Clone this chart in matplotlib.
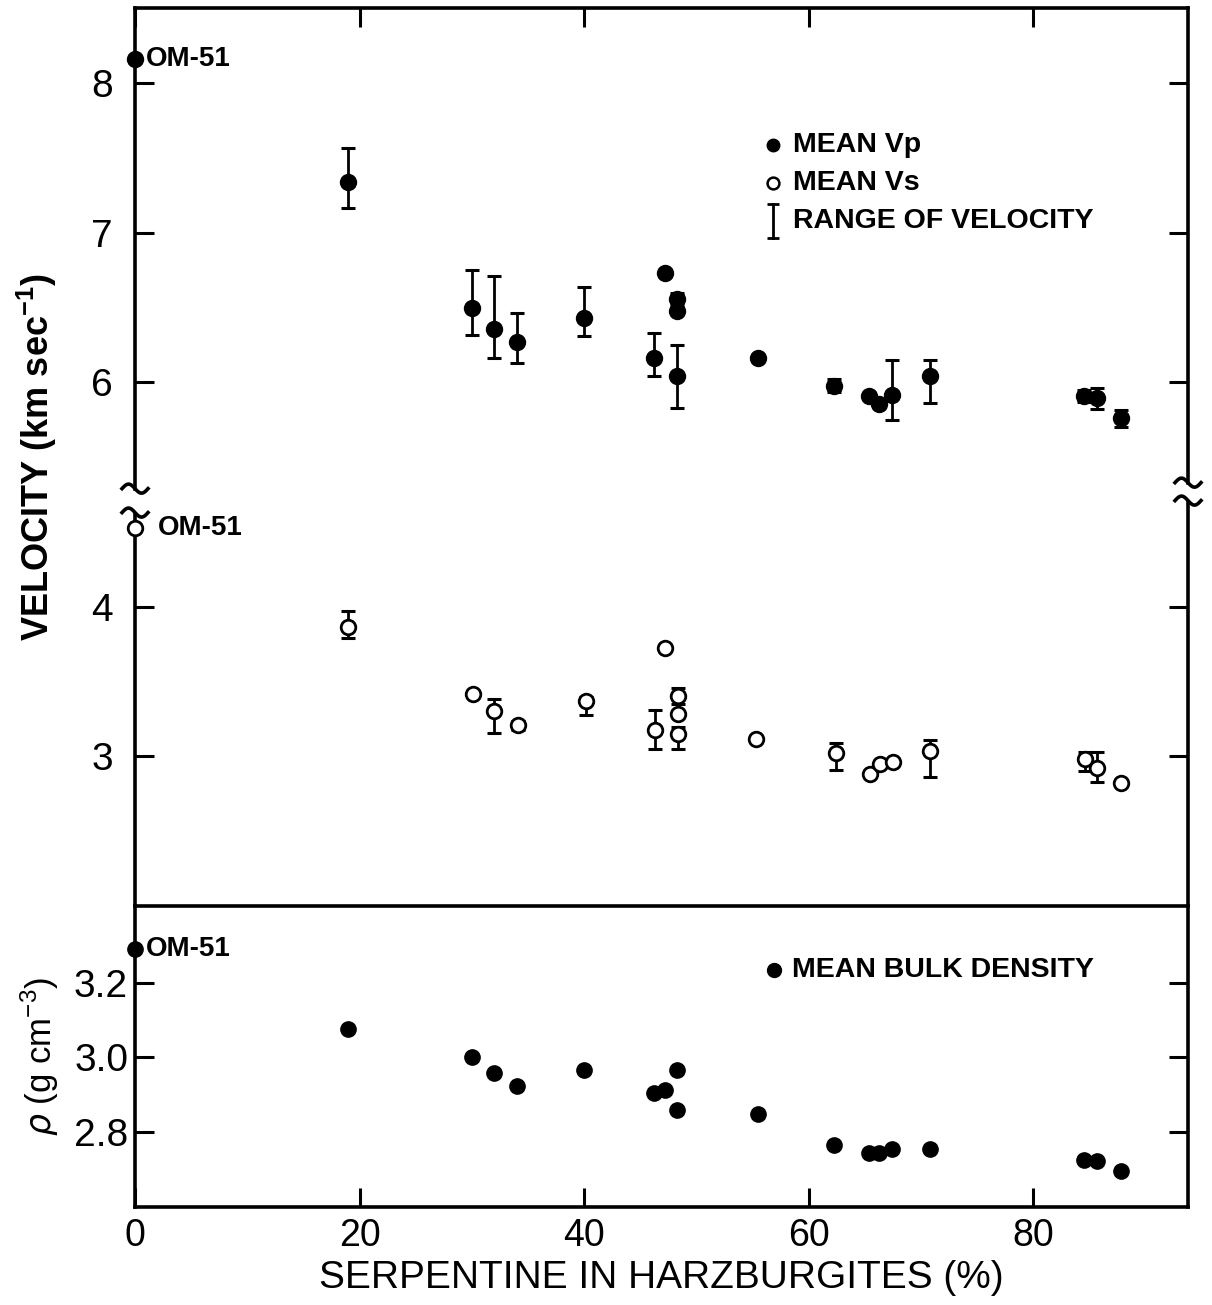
import numpy as np
import matplotlib
matplotlib.use("Agg")
import matplotlib.pyplot as plt

plt.rcParams["font.family"] = ["Liberation Sans", "DejaVu Sans"]
plt.rcParams["mathtext.fontset"] = "dejavusans"

# ── Data ───────────────────────────────────────────────────────────────────
nan = np.nan

# serpentine content (%) for each sample, P-wave velocity (km/s)
vp_serp = [0, 19, 30, 32, 34, 40, 46.2, 47.2, 48.3, 48.3, 48.3, 55.5,
           62.3, 65.4, 66.3, 67.4, 70.8, 84.5, 85.7, 87.8]
vp_mean = [8.16, 7.34, 6.50, 6.355, 6.27, 6.43, 6.16, 6.73, 6.556, 6.477,
           6.045, 6.16, 5.973, 5.91, 5.854, 5.915, 6.045, 5.906, 5.895, 5.76]
vp_min = [nan, 7.163, 6.315, 6.162, 6.128, 6.31, 6.045, nan, 6.52, nan,
          5.831, nan, 5.933, nan, nan, 5.746, 5.865, 5.87, 5.82, 5.703]
vp_max = [nan, 7.567, 6.753, 6.708, 6.461, 6.637, 6.33, nan, 6.596, nan,
          6.252, nan, 6.025, nan, nan, 6.153, 6.153, 5.95, 5.96, 5.816]

# S-wave velocity (km/s)
vs_serp = [0, 19, 30.1, 32, 34.1, 40.2, 46.3, 47.2, 48.4, 48.4, 48.4, 55.3,
           62.4, 65.5, 66.4, 67.5, 70.8, 84.6, 85.7, 87.8]
vs_mean = [4.53, 3.867, 3.418, 3.307, 3.21, 3.37, 3.175, 3.728, 3.407, 3.281,
           3.153, 3.115, 3.022, 2.883, 2.949, 2.965, 3.038, 2.982, 2.922, 2.823]
vs_min = [nan, 3.79, nan, 3.155, 3.18, 3.277, 3.053, nan, 3.352, nan,
          3.053, nan, 2.909, nan, nan, nan, 2.865, 2.905, 2.827, nan]
vs_max = [nan, 3.971, nan, 3.385, 3.235, 3.40, 3.31, nan, 3.458, nan,
          3.20, nan, 3.088, nan, nan, nan, 3.108, 3.027, 3.027, nan]

# mean bulk density (g/cm3)
rho_serp = [0, 19, 30, 32, 34, 40, 46.2, 47.2, 48.3, 48.3, 55.5, 62.3,
            65.4, 66.3, 67.4, 70.8, 84.5, 85.7, 87.8]
rho_mean = [3.292, 3.076, 3.001, 2.957, 2.924, 2.967, 2.904, 2.913, 2.965,
            2.857, 2.846, 2.765, 2.741, 2.741, 2.754, 2.754, 2.722, 2.72, 2.695]

vel_ticks = [3, 4, 6, 7, 8]
rho_ticks = [2.8, 3.0, 3.2]
x_ticks = [0, 20, 40, 60, 80]

# the velocity axis is broken between 4 and 6: Vs values are shifted up
VS_SHIFT = 0.5
BREAK_LEFT = (5.13, 5.29)
BREAK_RIGHT = (5.21, 5.33)

# ── Figure / axes ─────────────────────────────────────────────────────────
W, H = 1212, 1305
fig = plt.figure(figsize=(W / 100, H / 100), dpi=100)
ax_v = fig.add_axes([0.1114, 0.3057, 0.8688, 0.6879])
ax_r = fig.add_axes([0.1114, 0.0749, 0.8688, 0.2309], sharex=ax_v)

LW = 2.6
for ax in (ax_v, ax_r):
    for s in ax.spines.values():
        s.set_linewidth(LW)
    ax.tick_params(direction="in", length=14, width=2.2, labelsize=27, pad=8)

ax_v.set_xlim(0, 93.8)
ax_v.set_ylim(2.5, 8.5)
ax_r.set_ylim(2.596, 3.408)

# ── Velocity panel ────────────────────────────────────────────────────────
vp_x = np.asarray(vp_serp)
vp_y = np.asarray(vp_mean)
vs_x = np.asarray(vs_serp)
vs_y = np.asarray(vs_mean) + VS_SHIFT

err_kw = dict(fmt="none", ecolor="black", elinewidth=2.0, capsize=5,
              capthick=2.2, zorder=2)

m = ~np.isnan(vp_min)
ax_v.errorbar(vp_x[m], vp_y[m],
              yerr=[vp_y[m] - np.asarray(vp_min)[m], np.asarray(vp_max)[m] - vp_y[m]],
              **err_kw)
m = ~np.isnan(vs_min)
ax_v.errorbar(vs_x[m], vs_y[m],
              yerr=[vs_y[m] - (np.asarray(vs_min)[m] + VS_SHIFT),
                    (np.asarray(vs_max)[m] + VS_SHIFT) - vs_y[m]],
              **err_kw)

ax_v.plot(vp_x, vp_y, "o", color="black", ms=11.5, zorder=3, clip_on=False)
ax_v.plot(vs_x, vs_y, "o", mfc="white", mec="black", mew=2.0, ms=10.5,
          zorder=3, clip_on=False)

ax_v.set_yticks([t + VS_SHIFT if t < 5 else t for t in vel_ticks])
ax_v.set_yticklabels([str(t) for t in vel_ticks])
ax_v.set_xticks(x_ticks)
ax_v.tick_params(axis="x", top=True, bottom=False, labelbottom=False)
ax_v.tick_params(axis="y", right=True, pad=16, labelsize=28)
ax_v.spines["bottom"].set_visible(False)

# broken left/right spines with tilde marks
ax_v.spines["left"].set_bounds(BREAK_LEFT[1], 8.5)
ax_v.spines["right"].set_bounds(BREAK_RIGHT[1], 8.5)
ax_v.plot([0, 0], [2.5, BREAK_LEFT[0]], color="black", lw=LW,
          transform=ax_v.get_yaxis_transform(), clip_on=False, solid_capstyle="butt")
ax_v.plot([1, 1], [2.5, BREAK_RIGHT[0]], color="black", lw=LW,
          transform=ax_v.get_yaxis_transform(), clip_on=False, solid_capstyle="butt")

ax_w_px, ax_h_px = 0.8688 * W, 0.6879 * H
t = np.linspace(-1, 1, 40)
for xa, (lo, hi) in ((0, BREAK_LEFT), (1, BREAK_RIGHT)):
    for yv in (lo, hi):
        ya = (yv - 2.5) / 6.0
        ax_v.plot(xa + t * 13 / ax_w_px, ya - 4.5 * np.sin(np.pi * t) / ax_h_px,
                  color="black", lw=2.6, transform=ax_v.transAxes, clip_on=False)

# OM-51 labels
ax_v.annotate("OM-51", xy=(0, vp_mean[0]), xytext=(7.5, 0),
              textcoords="offset points", va="center", ha="left",
              fontsize=20, fontweight="bold")
ax_v.annotate("OM-51", xy=(0, vs_mean[0] + VS_SHIFT), xytext=(16.5, 0),
              textcoords="offset points", va="center", ha="left",
              fontsize=20, fontweight="bold")

# legend (drawn by hand, as in the original)
leg_x, txt_x = 0.606, 0.625
rows = [0.8477, 0.8054, 0.763]
ax_v.plot([leg_x], [rows[0]], "o", color="black", ms=9, transform=ax_v.transAxes)
ax_v.plot([leg_x], [rows[1]], "o", mfc="white", mec="black", mew=1.8, ms=8.5,
          transform=ax_v.transAxes)
ax_v.plot([leg_x, leg_x], [rows[2] - 0.019, rows[2] + 0.019], color="black",
          lw=2.0, transform=ax_v.transAxes)
ax_v.plot([leg_x, leg_x], [rows[2] - 0.019, rows[2] + 0.019], "_", color="black",
          ms=9, mew=2.0, transform=ax_v.transAxes)
for y, s in zip(rows, ["MEAN Vp", "MEAN Vs", "RANGE OF VELOCITY"]):
    ax_v.text(txt_x, y, s, transform=ax_v.transAxes, va="center", ha="left",
              fontsize=20.5, fontweight="bold")

# ── Density panel ─────────────────────────────────────────────────────────
ax_r.plot(rho_serp, rho_mean, "o", color="black", ms=11, zorder=3, clip_on=False)
ax_r.set_yticks(rho_ticks)
ax_r.set_yticklabels([f"{v:.1f}" for v in rho_ticks])
ax_r.set_xticks(x_ticks)
ax_r.tick_params(axis="x", top=False, bottom=True)
ax_r.tick_params(axis="y", right=True, pad=5, labelsize=28)

ax_r.annotate("OM-51", xy=(0, rho_mean[0]), xytext=(7.5, 0),
              textcoords="offset points", va="center", ha="left",
              fontsize=20, fontweight="bold")
ax_r.plot([0.607], [0.7876], "o", color="black", ms=10, transform=ax_r.transAxes)
ax_r.text(0.624, 0.7876, "MEAN BULK DENSITY", transform=ax_r.transAxes,
          va="center", ha="left", fontsize=20.5, fontweight="bold")

# ── Axis titles ───────────────────────────────────────────────────────────
ax_r.set_xlabel("SERPENTINE IN HARZBURGITES (%)", fontsize=28, labelpad=4)
fig.text(37 / W, 1 - 457 / H, "VELOCITY (km sec$^{\\mathregular{-1}}$)",
         rotation=90, ha="center", va="center", fontsize=26, fontweight="bold")
fig.text(40 / W, 1 - 1056 / H, "$\\rho$ (g cm$^{\\mathregular{-3}}$)",
         rotation=90, ha="center", va="center", fontsize=25)

fig.savefig("out.png", dpi=100)
